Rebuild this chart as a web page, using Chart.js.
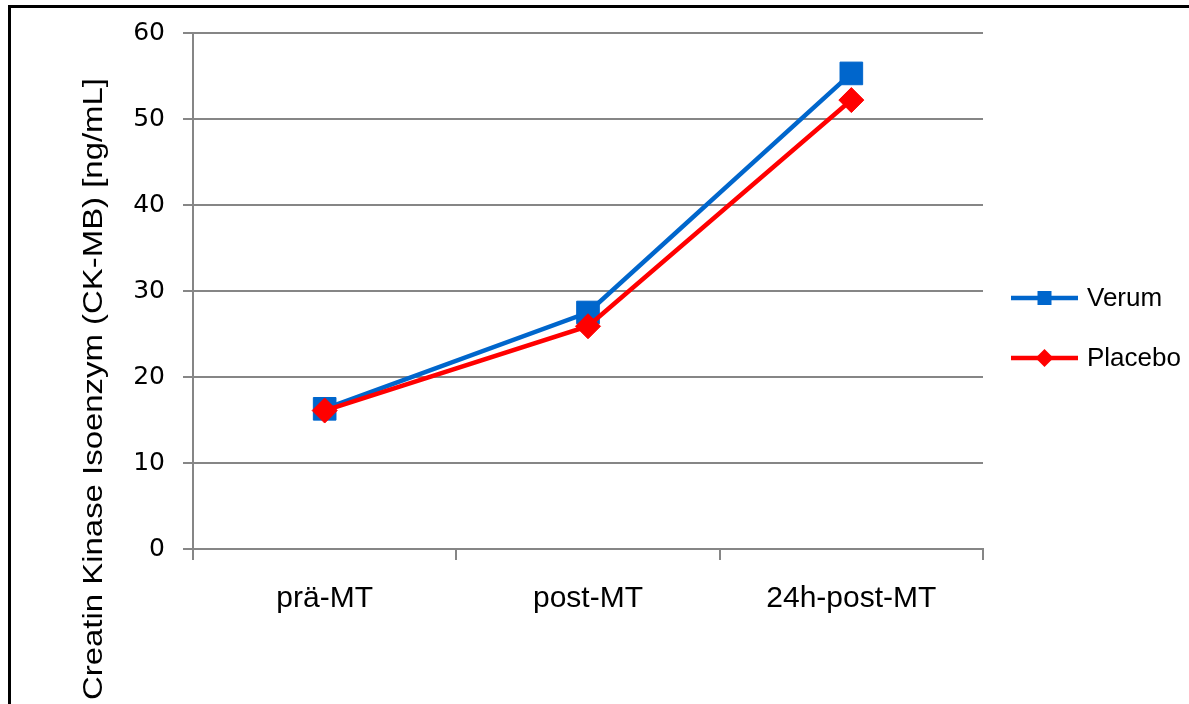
<!DOCTYPE html>
<html>
<head>
<meta charset="utf-8">
<script src="https://cdn.jsdelivr.net/npm/chart.js@4/dist/chart.umd.min.js"></script>
<style>
  html, body { margin: 0; padding: 0; background: #fff; overflow: hidden; }
  #wrap { width: 1189px; height: 704px; }
</style>
</head>
<body>
<div id="wrap"><canvas id="c" width="1189" height="704"></canvas></div>
<script>
// Measurement times
const categories = ['prä-MT', 'post-MT', '24h-post-MT'];
// CK-MB means per group [ng/mL]
const verum = [16.3, 27.5, 55.3];
const placebo = [16.1, 25.9, 52.2];
const seriesNames = ['Verum', 'Placebo'];
const yTicks = [0, 10, 20, 30, 40, 50, 60];
const yTitle = 'Creatin Kinase Isoenzym (CK-MB) [ng/mL]';

const GRID = '#868686';
const BLUE = '#0066CC';
const RED = '#FF0000';

// Frame, rotated axis title and line+marker legend
const decor = {
  id: 'decor',
  beforeDraw(chart) {
    const ctx = chart.ctx;
    ctx.save();
    ctx.fillStyle = '#fff';
    ctx.fillRect(0, 0, chart.width, chart.height);
    ctx.fillStyle = '#000';
    ctx.fillRect(8, 5, chart.width - 8, 3);
    ctx.fillRect(8, 5, 3, chart.height - 5);
    ctx.restore();
  },
  afterDraw(chart) {
    const ctx = chart.ctx;
    // axis title
    ctx.save();
    ctx.font = '28px "Liberation Sans", Arial, sans-serif';
    ctx.fillStyle = '#000';
    ctx.textAlign = 'center';
    ctx.textBaseline = 'alphabetic';
    const w = ctx.measureText(yTitle).width;
    ctx.translate(102, 389);
    ctx.rotate(-Math.PI / 2);
    ctx.scale(622 / w, 1);
    ctx.fillText(yTitle, 0, 0);
    ctx.restore();

    // legend
    chart.data.datasets.forEach((ds, i) => {
      const y = 298 + i * 60;
      const x0 = 1011, x1 = 1078, xm = (x0 + x1) / 2;
      ctx.save();
      ctx.strokeStyle = ds.borderColor;
      ctx.lineWidth = 4.5;
      ctx.beginPath();
      ctx.moveTo(x0, y);
      ctx.lineTo(x1, y);
      ctx.stroke();
      ctx.fillStyle = ds.pointBackgroundColor;
      ctx.beginPath();
      if (ds.pointStyle === 'rect') {
        ctx.rect(xm - 7, y - 7, 14, 14);
      } else {
        ctx.moveTo(xm, y - 9);
        ctx.lineTo(xm + 9, y);
        ctx.lineTo(xm, y + 9);
        ctx.lineTo(xm - 9, y);
        ctx.closePath();
      }
      ctx.fill();
      ctx.fillStyle = '#000';
      ctx.font = '26px "Liberation Sans", Arial, sans-serif';
      ctx.textAlign = 'left';
      ctx.textBaseline = 'middle';
      ctx.fillText(ds.label, 1087, y + 1);
      ctx.restore();
    });
  }
};

new Chart(document.getElementById('c'), {
  type: 'line',
  data: {
    labels: categories,
    datasets: [
      {
        label: seriesNames[0],
        data: verum,
        borderColor: BLUE,
        backgroundColor: BLUE,
        pointBackgroundColor: BLUE,
        pointBorderColor: BLUE,
        borderWidth: 4.5,
        pointStyle: 'rect',
        pointRadius: 16,
        pointBorderWidth: 1,
        pointHoverRadius: 16,
        tension: 0,
        order: 2
      },
      {
        label: seriesNames[1],
        data: placebo,
        borderColor: RED,
        backgroundColor: RED,
        pointBackgroundColor: RED,
        pointBorderColor: RED,
        borderWidth: 4.5,
        pointStyle: 'rectRot',
        pointRadius: 12.5,
        pointBorderWidth: 1,
        pointHoverRadius: 12.5,
        tension: 0,
        order: 1
      }
    ]
  },
  options: {
    responsive: false,
    animation: false,
    events: [],
    layout: { padding: { left: 0, top: 30, right: 206, bottom: 0 } },
    plugins: {
      legend: { display: false },
      tooltip: { enabled: false },
      title: { display: false }
    },
    scales: {
      x: {
        type: 'category',
        offset: true,
        grid: {
          offset: true,
          drawOnChartArea: false,
          drawTicks: true,
          tickLength: 11,
          color: GRID,
          lineWidth: 2
        },
        border: { color: GRID, width: 2 },
        ticks: {
          color: '#000',
          font: { family: '"Liberation Sans", Arial, sans-serif', size: 30 },
          padding: 21,
          maxRotation: 0
        },
        afterFit(scale) { scale.height = 155; }
      },
      y: {
        min: yTicks[0],
        max: yTicks[yTicks.length - 1],
        afterBuildTicks(scale) { scale.ticks = yTicks.map(v => ({ value: v })); },
        grid: {
          color: GRID,
          lineWidth: 2,
          drawTicks: true,
          tickLength: 10
        },
        border: { color: GRID, width: 2 },
        ticks: {
          color: '#000',
          font: { family: '"DejaVu Sans", sans-serif', size: 25 },
          padding: 18
        },
        afterFit(scale) { scale.width = 193; }
      }
    }
  },
  plugins: [decor]
});
</script>
</body>
</html>
